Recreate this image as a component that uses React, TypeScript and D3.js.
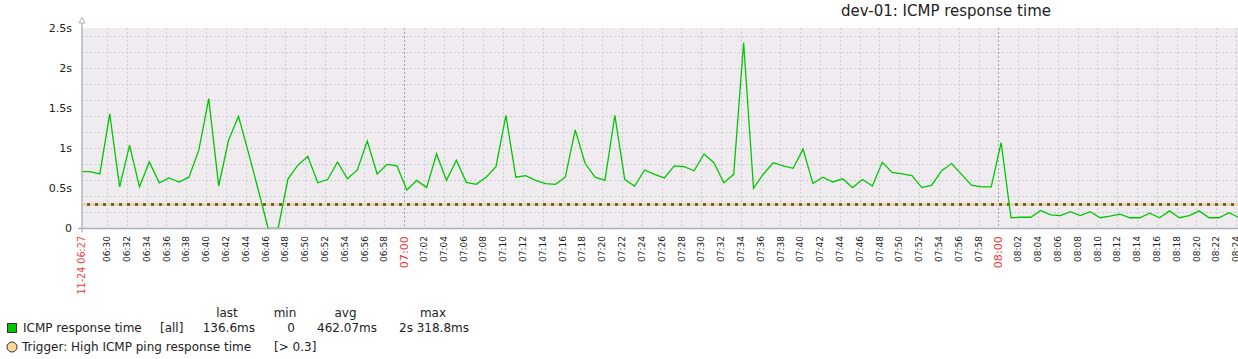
import React from "react";
import * as d3 from "d3";

const TITLE = "dev-01: ICMP response time";
const RANGE_START = "2023-11-24T06:27:29";
const RANGE_END = "2023-11-24T08:24:12";
const START_LABEL = "11-24 06:27";
const SAMPLE_START = "2023-11-24T06:27:17";
const SAMPLE_STEP_SECONDS = 60;

// ICMP response time in seconds, one sample per minute
const responseTimes = [
  0.71, 0.71, 0.68, 1.43, 0.52, 1.04, 0.52, 0.83, 0.57, 0.63,
  0.58, 0.64, 0.98, 1.62, 0.53, 1.1, 1.4, 0.95, 0.48, 0,
  0, 0.62, 0.79, 0.9, 0.57, 0.61, 0.83, 0.62, 0.73, 1.09,
  0.68, 0.8, 0.78, 0.48, 0.6, 0.51, 0.93, 0.6, 0.85, 0.575,
  0.55, 0.64, 0.77, 1.41, 0.64, 0.66, 0.6, 0.56, 0.55, 0.64,
  1.23, 0.81, 0.64, 0.6, 1.41, 0.61, 0.53, 0.73, 0.675, 0.63,
  0.78, 0.77, 0.72, 0.93, 0.82, 0.57, 0.675, 2.3188, 0.5, 0.68,
  0.82, 0.78, 0.75, 0.99, 0.56, 0.64, 0.58, 0.62, 0.51, 0.61,
  0.53, 0.825, 0.7, 0.68, 0.66, 0.51, 0.54, 0.72, 0.81, 0.675,
  0.54, 0.52, 0.52, 1.07, 0.134, 0.14, 0.14, 0.225, 0.17, 0.16,
  0.21, 0.16, 0.21, 0.134, 0.154, 0.18, 0.134, 0.134, 0.19, 0.134,
  0.22, 0.134, 0.16, 0.22, 0.134, 0.134, 0.196, 0.1366,
];

const Y_MAX = 2.5;
const THRESHOLD = 0.3;

const SERIES_NAME = "ICMP response time";
const SERIES_FUNC = "[all]";
const LEGEND_HEADERS = ["last", "min", "avg", "max"];
const LEGEND_VALUES = ["136.6ms", "0", "462.07ms", "2s 318.8ms"];
const TRIGGER_NAME = "Trigger: High ICMP ping response time";
const TRIGGER_COND = "[> 0.3]";

const FONT = "'DejaVu Sans', sans-serif";
const TEXT = "#222";
const RED = "#f03a3a";
const GREEN = "#00c800";

export default function App() {
  const W = 1238;
  const H = 359;
  const left = 82;
  const right = 1238;
  const top = 28;
  const bottom = 228.5;

  const x = d3
    .scaleTime()
    .domain([new Date(RANGE_START), new Date(RANGE_END)])
    .range([left, right]);
  const y = d3.scaleLinear().domain([0, Y_MAX]).range([bottom, top]);

  const t0 = new Date(SAMPLE_START).getTime();
  const points = responseTimes.map((v, i) => ({
    t: new Date(t0 + i * SAMPLE_STEP_SECONDS * 1000),
    v,
  }));
  const line = d3
    .line<{ t: Date; v: number }>()
    .x((d) => x(d.t))
    .y((d) => y(d.v));

  const gridY = y.ticks(10);
  const labelY = y.ticks(5);
  const xTicks = x
    .ticks(d3.timeMinute.every(2) as any)
    .filter((t) => x(t) - left > 15);
  const fmt = d3.timeFormat("%H:%M");
  const isHour = (t: Date) => t.getMinutes() === 0;

  const thrY = y(THRESHOLD);

  const headerCenters = [227, 285, 345.5, 433];
  const valueEnds = [255, 295, 377, 469];

  return (
    <svg
      width={W}
      height={H}
      style={{ position: "absolute", left: 0, top: 0, background: "#fff" }}
      fontFamily={FONT}
    >
      <defs>
        <clipPath id="plotclip">
          <rect x={left} y={top - 2} width={right - left} height={bottom - top + 3} />
        </clipPath>
      </defs>
      <text x={946} y={16} textAnchor="middle" fontSize={15} fill={TEXT}>
        {TITLE}
      </text>
      <rect x={left} y={top} width={right - left} height={bottom - top} fill="#efebef" />

      {gridY
        .filter((v) => v > 0)
        .map((v) => (
          <line
            key={"gy" + v}
            x1={left}
            x2={right}
            y1={Math.round(y(v)) + 0.5}
            y2={Math.round(y(v)) + 0.5}
            stroke="#c9d0da"
            strokeDasharray="2,2"
          />
        ))}
      {xTicks.map((t) => (
        <line
          key={"gx" + t.getTime()}
          x1={Math.round(x(t)) + 0.5}
          x2={Math.round(x(t)) + 0.5}
          y1={top}
          y2={bottom}
          stroke={isHour(t) ? "#9aa6b6" : "#c9d0da"}
          strokeDasharray="2,2"
        />
      ))}

      {/* threshold */}
      <line x1={left} x2={right} y1={thrY} y2={thrY} stroke="#f6d69a" strokeWidth={3} />
      <line
        x1={left}
        x2={right}
        y1={thrY}
        y2={thrY}
        stroke="#4a4a4a"
        strokeWidth={2.5}
        strokeDasharray="3,5"
        strokeDashoffset={3}
      />

      <path
        d={line(points) || ""}
        fill="none"
        stroke={GREEN}
        strokeWidth={1.3}
        strokeLinejoin="miter"
        clipPath="url(#plotclip)"
      />

      {/* axes */}
      <line x1={left - 4} x2={right} y1={bottom} y2={bottom} stroke="#a8b0bc" strokeWidth={1.3} />
      <line x1={left} x2={left} y1={bottom + 4} y2={22} stroke="#a8b0bc" strokeWidth={1.3} />
      <path
        d={`M${left - 3},${23} L${left},${17.5} L${left + 3},${23} Z`}
        fill="#fff"
        stroke="#a8b0bc"
        strokeWidth={1}
      />

      {labelY.map((v) => (
        <text
          key={"ly" + v}
          x={72}
          y={y(v)}
          dy="0.35em"
          textAnchor="end"
          fontSize={11}
          fill={TEXT}
        >
          {v === 0 ? "0" : `${v}s`}
        </text>
      ))}

      <text
        transform={`translate(${left},236) rotate(-90)`}
        dy="0.35em"
        textAnchor="end"
        fontSize={9.6}
        fill={RED}
      >
        {START_LABEL}
      </text>
      {xTicks.map((t) => (
        <text
          key={"lx" + t.getTime()}
          transform={`translate(${x(t)},236) rotate(-90)`}
          dy="0.35em"
          textAnchor="end"
          fontSize={isHour(t) ? 11.2 : 9}
          fill={isHour(t) ? RED : TEXT}
        >
          {fmt(t)}
        </text>
      ))}

      {/* legend */}
      {LEGEND_HEADERS.map((h, i) => (
        <text key={h} x={headerCenters[i]} y={317} textAnchor="middle" fontSize={12} fill={TEXT}>
          {h}
        </text>
      ))}
      <rect x={7.5} y={323.5} width={9} height={9} fill={GREEN} stroke="#333" strokeWidth={1} />
      <text x={23} y={332} fontSize={12} fill={TEXT}>
        {SERIES_NAME}
      </text>
      <text x={160} y={332} fontSize={12} fill={TEXT}>
        {SERIES_FUNC}
      </text>
      {LEGEND_VALUES.map((v, i) => (
        <text key={"lv" + i} x={valueEnds[i]} y={332} textAnchor="end" fontSize={12} fill={TEXT}>
          {v}
        </text>
      ))}
      <circle cx={12} cy={347} r={5} fill="#ffd699" stroke="#333" strokeWidth={1} />
      <text x={22} y={351} fontSize={12} fill={TEXT}>
        {TRIGGER_NAME}
      </text>
      <text x={274} y={351} fontSize={12} fill={TEXT}>
        {TRIGGER_COND}
      </text>
    </svg>
  );
}
